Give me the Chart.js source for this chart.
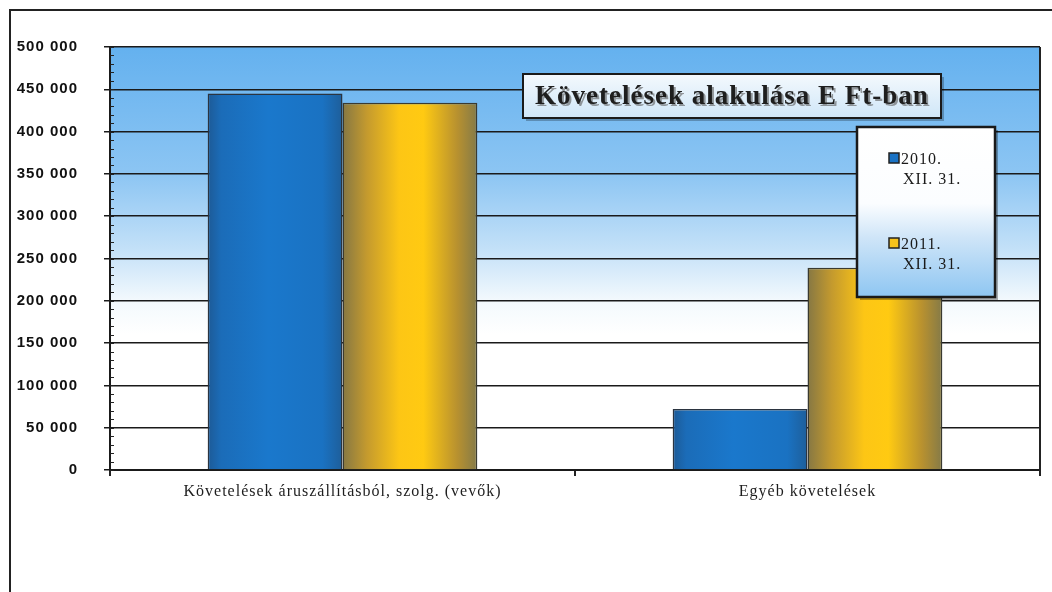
<!DOCTYPE html>
<html>
<head>
<meta charset="utf-8">
<script src="https://cdn.jsdelivr.net/npm/chart.js@4/dist/chart.umd.min.js"></script>
<style>
  body { margin: 0; background: #fff; overflow: hidden; }
  #wrap { position: relative; width: 1052px; height: 592px; }
  #frame { position: absolute; left: 9px; top: 9px; width: 1100px; height: 700px;
           border-left: 2px solid #222; border-top: 2px solid #222; pointer-events: none; }
  canvas { position: absolute; left: 0; top: 0; }
</style>
</head>
<body>
<div id="wrap">
  <canvas id="main-chart" width="1052" height="592"></canvas>
  <div id="frame"></div>
</div>
<script>
// data (E Ft)
const categories = ['Követelések áruszállításból, szolg. (vevők)', 'Egyéb követelések']
const seriesNames = [['2010.', 'XII. 31.'], ['2011.', 'XII. 31.']]
const values2010 = [445000, 72000]
const values2011 = [434000, 239000]
const chartTitle = 'Követelések alakulása E Ft-ban'
const yMax = 500000
const yStep = 50000
const yMinorStep = 10000

const CAT_PCT = 0.58

function fmt(v) {
    return String(v).replace(/\B(?=(\d{3})+(?!\d))/g, ' ')
}

// horizontal "cylinder" shading for each bar
function barFill(stops, flat) {
    return function(c) {
        let chart = c.chart
        let xs = chart.scales.x
        if (!chart.chartArea || !xs || c.dataIndex == null) return flat
        let n = chart.data.labels.length
        let nd = chart.data.datasets.length
        let barW = xs.width / n * CAT_PCT / nd
        let center = xs.getPixelForValue(c.dataIndex)
        let left = center - barW * nd / 2 + c.datasetIndex * barW
        let g = chart.ctx.createLinearGradient(left, 0, left + barW, 0)
        stops.forEach(s => g.addColorStop(s[0], s[1]))
        return g
    }
}

const blueStops = [[0, '#1d5a96'], [0.1, '#1b6cb8'], [0.45, '#1a78cc'], [0.85, '#1a72c2'], [1, '#1e5e9a']]
const yellowStops = [[0, '#857744'], [0.18, '#c49a2e'], [0.42, '#fdc615'], [0.6, '#ffca12'], [0.85, '#b8912f'], [1, '#847a48']]

const decor = {
    id: 'decor',
    beforeDraw(chart) {
        let ctx = chart.ctx
        let a = chart.chartArea
        let g = ctx.createLinearGradient(0, a.top, 0, a.bottom)
        g.addColorStop(0, '#64b1ef')
        g.addColorStop(0.3, '#8cc5f3')
        g.addColorStop(0.48, '#c4e1f8')
        g.addColorStop(0.6, '#f3f9fd')
        g.addColorStop(0.68, '#ffffff')
        g.addColorStop(1, '#ffffff')
        ctx.save()
        ctx.fillStyle = g
        ctx.fillRect(a.left, a.top, a.right - a.left, a.bottom - a.top)
        ctx.restore()
        // the scanned labels are spaced out a little
        ctx.letterSpacing = '1px'
    },
    afterDatasetsDraw(chart) {
        let ctx = chart.ctx
        let a = chart.chartArea
        let y = chart.scales.y
        ctx.save()
        // minor ticks on the value axis
        ctx.strokeStyle = '#222'
        ctx.lineWidth = 1
        for (let v = 0; v <= yMax; v += yMinorStep) {
            let py = Math.round(y.getPixelForValue(v)) + 0.5
            ctx.beginPath()
            ctx.moveTo(a.left, py)
            ctx.lineTo(a.left + 4, py)
            ctx.stroke()
        }
        // right edge of the plot
        ctx.lineWidth = 2
        ctx.beginPath()
        ctx.moveTo(a.right, a.top)
        ctx.lineTo(a.right, a.bottom + 6)
        ctx.stroke()

        // title box
        let tx = a.left + 413, ty = a.top + 27, tw = 418, th = 44
        ctx.fillStyle = 'rgba(0,0,0,0.25)'
        ctx.fillRect(tx + 3, ty + 3, tw, th)
        let tg = ctx.createLinearGradient(0, ty, 0, ty + th)
        tg.addColorStop(0, '#f4f9fd')
        tg.addColorStop(1, '#cfe6f8')
        ctx.fillStyle = tg
        ctx.fillRect(tx, ty, tw, th)
        ctx.strokeStyle = '#1a1a1a'
        ctx.lineWidth = 2
        ctx.strokeRect(tx, ty, tw, th)
        ctx.font = 'bold 27px "Liberation Serif", "DejaVu Serif", serif'
        ctx.letterSpacing = '1px'
        ctx.textAlign = 'center'
        ctx.textBaseline = 'middle'
        ctx.fillStyle = 'rgba(90,90,90,0.6)'
        ctx.fillText(chartTitle, tx + tw / 2 + 2, ty + th / 2 + 3)
        ctx.fillStyle = '#1e1e1e'
        ctx.fillText(chartTitle, tx + tw / 2, ty + th / 2 + 1)

        // legend box
        let lx = a.left + 747, ly = a.top + 80, lw = 138, lh = 170
        ctx.fillStyle = 'rgba(0,0,0,0.3)'
        ctx.fillRect(lx + 3, ly + 3, lw, lh)
        let lg = ctx.createLinearGradient(0, ly, 0, ly + lh)
        lg.addColorStop(0, '#ffffff')
        lg.addColorStop(0.45, '#fbfdff')
        lg.addColorStop(0.65, '#cfe5f8')
        lg.addColorStop(1, '#8ec6f2')
        ctx.fillStyle = lg
        ctx.fillRect(lx, ly, lw, lh)
        ctx.strokeStyle = '#1a1a1a'
        ctx.lineWidth = 2.5
        ctx.strokeRect(lx, ly, lw, lh)

        ctx.font = '16px "Liberation Serif", "DejaVu Serif", serif'
        ctx.textAlign = 'left'
        ctx.textBaseline = 'alphabetic'
        let marks = ['#1a72c4', '#f6c21a']
        chart.data.datasets.forEach((ds, i) => {
            let my = ly + 26 + i * 85
            ctx.fillStyle = marks[i]
            ctx.fillRect(lx + 32, my, 10, 10)
            ctx.strokeStyle = '#222'
            ctx.lineWidth = 1.5
            ctx.strokeRect(lx + 32, my, 10, 10)
            ctx.fillStyle = '#1a1a1a'
            ds.label.forEach((line, k) => {
                ctx.fillText(line, lx + (k == 0 ? 44 : 46), my + 11 + k * 20)
            })
        })
        ctx.restore()
    }
}

new Chart(document.getElementById('main-chart'), {
    type: 'bar',
    data: {
        labels: categories,
        datasets: [
            {
                label: seriesNames[0],
                data: values2010,
                backgroundColor: barFill(blueStops, '#1a72c4'),
                borderColor: '#2b3440',
                borderWidth: 1.5,
                categoryPercentage: CAT_PCT,
                barPercentage: 1
            },
            {
                label: seriesNames[1],
                data: values2011,
                backgroundColor: barFill(yellowStops, '#f6c21a'),
                borderColor: '#3a3a30',
                borderWidth: 1.5,
                categoryPercentage: CAT_PCT,
                barPercentage: 1
            }
        ]
    },
    options: {
        responsive: false,
        animation: false,
        devicePixelRatio: 1,
        layout: { padding: { left: 0, top: 47, right: 12, bottom: 0 } },
        plugins: {
            legend: { display: false },
            title: { display: false },
            tooltip: { enabled: false }
        },
        scales: {
            x: {
                offset: true,
                afterFit: s => { s.height = 122 },
                grid: { drawOnChartArea: false, drawTicks: true, tickLength: 6, color: '#222', lineWidth: 2, offset: true },
                border: { color: '#1a1a1a', width: 2 },
                ticks: {
                    color: '#1e1e1e',
                    padding: 6,
                    maxRotation: 0,
                    font: { family: '"Liberation Serif", "DejaVu Serif", serif', size: 16 }
                }
            },
            y: {
                min: 0,
                max: yMax,
                afterFit: s => { s.width = 110 },
                grid: { color: '#1a1a1a', lineWidth: 1.5, tickLength: 6 },
                border: { color: '#1a1a1a', width: 2 },
                ticks: {
                    stepSize: yStep,
                    padding: 26,
                    color: '#111',
                    font: { family: '"Liberation Sans", Arial, sans-serif', size: 15, weight: 'bold' },
                    callback: v => fmt(v)
                }
            }
        }
    },
    plugins: [decor]
})
</script>
</body>
</html>
